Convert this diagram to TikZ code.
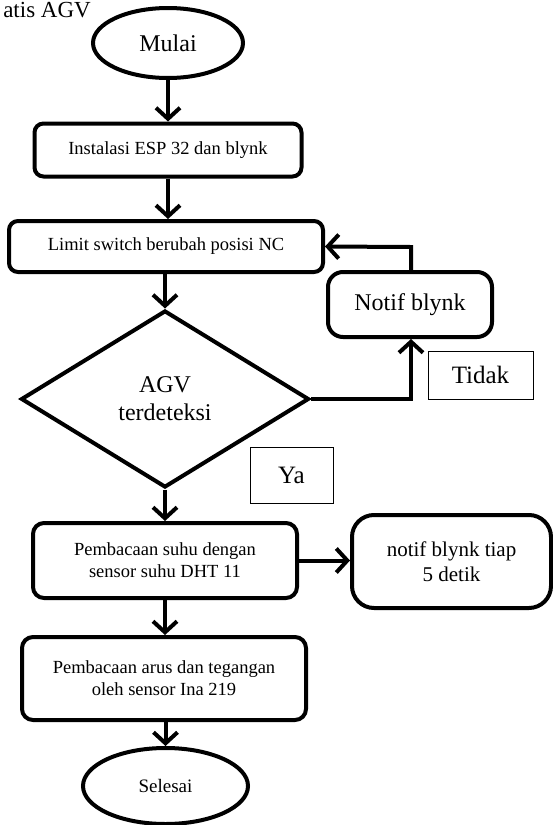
\documentclass[tikz,border=0pt]{standalone}
\usepackage{fontspec}
\setmainfont{Liberation Serif}
\usetikzlibrary{shapes.geometric,arrows.meta}
\begin{document}
\begin{tikzpicture}[x=1pt,y=-1pt,
  thick box/.style={draw,line width=4pt,rounded corners=9pt,align=center,inner sep=0pt},
  term/.style={draw,ellipse,line width=4pt,inner sep=0pt},
  lbl/.style={draw,line width=0.9pt,inner sep=0pt,font=\fontsize{25}{28}\selectfont},
  flow/.style={line width=4pt,-{Straight Barb[length=11pt,width=24pt,line width=4pt]}},
  small/.style={font=\fontsize{18.5}{22}\selectfont},
  big/.style={font=\fontsize{24}{28}\selectfont}]
\useasboundingbox (0,0) rectangle (553,825);
\node[anchor=base east,font=\fontsize{23}{26}\selectfont,inner sep=0pt] (title) at (91,17) {atis AGV};
\node[term,minimum width=150pt,minimum height=70pt,font=\fontsize{24}{28}\selectfont] (mulai) at (168,43) {Mulai};
\node[thick box,small,minimum width=267pt,minimum height=53pt] (inst) at (168,150) {Instalasi ESP 32 dan blynk};
\node[thick box,small,minimum width=314pt,minimum height=51pt] (limit) at (166,246.5) {Limit switch berubah posisi NC};
\node[thick box,big,rounded corners=15pt,minimum width=164pt,minimum height=65pt] (notif) at (410,304.5) {Notif blynk};
\node[draw,diamond,line width=4pt,inner sep=0pt,minimum width=288pt,minimum height=177pt,aspect=1.63,big,align=center] (dec) at (165,399) {AGV\\terdeteksi};
\node[lbl,minimum width=105pt,minimum height=48pt] (tidak) at (480.5,375) {Tidak};
\node[lbl,minimum width=83pt,minimum height=56pt] (ya) at (291.5,475) {Ya};
\node[thick box,small,rounded corners=11pt,minimum width=264pt,minimum height=75pt] (suhu) at (165,560.5) {Pembacaan suhu dengan\\sensor suhu DHT 11};
\node[thick box,rounded corners=22pt,font=\fontsize{21}{25}\selectfont,minimum width=199pt,minimum height=93pt] (tiap) at (451.5,561.5) {notif blynk tiap\\5 detik};
\node[thick box,small,rounded corners=11pt,minimum width=284pt,minimum height=83pt] (arus) at (164,678.5) {Pembacaan arus dan tegangan\\oleh sensor Ina 219};
\node[term,font=\fontsize{19}{22}\selectfont,minimum width=165pt,minimum height=76pt] (selesai) at (165.5,786) {Selesai};
\coordinate (c1) at (411,399);
\coordinate (c2) at (411,247);
\draw[flow] (mulai.south) -- (inst.north);
\draw[flow] (inst.south) -- (limit.north -| inst.south);
\draw[flow] (limit.south -| dec.north) -- (dec.north);
\draw[flow] (dec.east) -- (c1) -- (notif.south -| c1);
\draw[flow] (notif.north -| c2) -- (c2) -- (limit.east);
\draw[flow] (dec.south) -- (suhu.north -| dec.south);
\draw[flow] (suhu.east) -- (tiap.west |- suhu.east);
\draw[flow] (suhu.south) -- (arus.north -| suhu.south);
\draw[flow] (arus.south -| selesai.north) -- (selesai.north);
\end{tikzpicture}
\end{document}
